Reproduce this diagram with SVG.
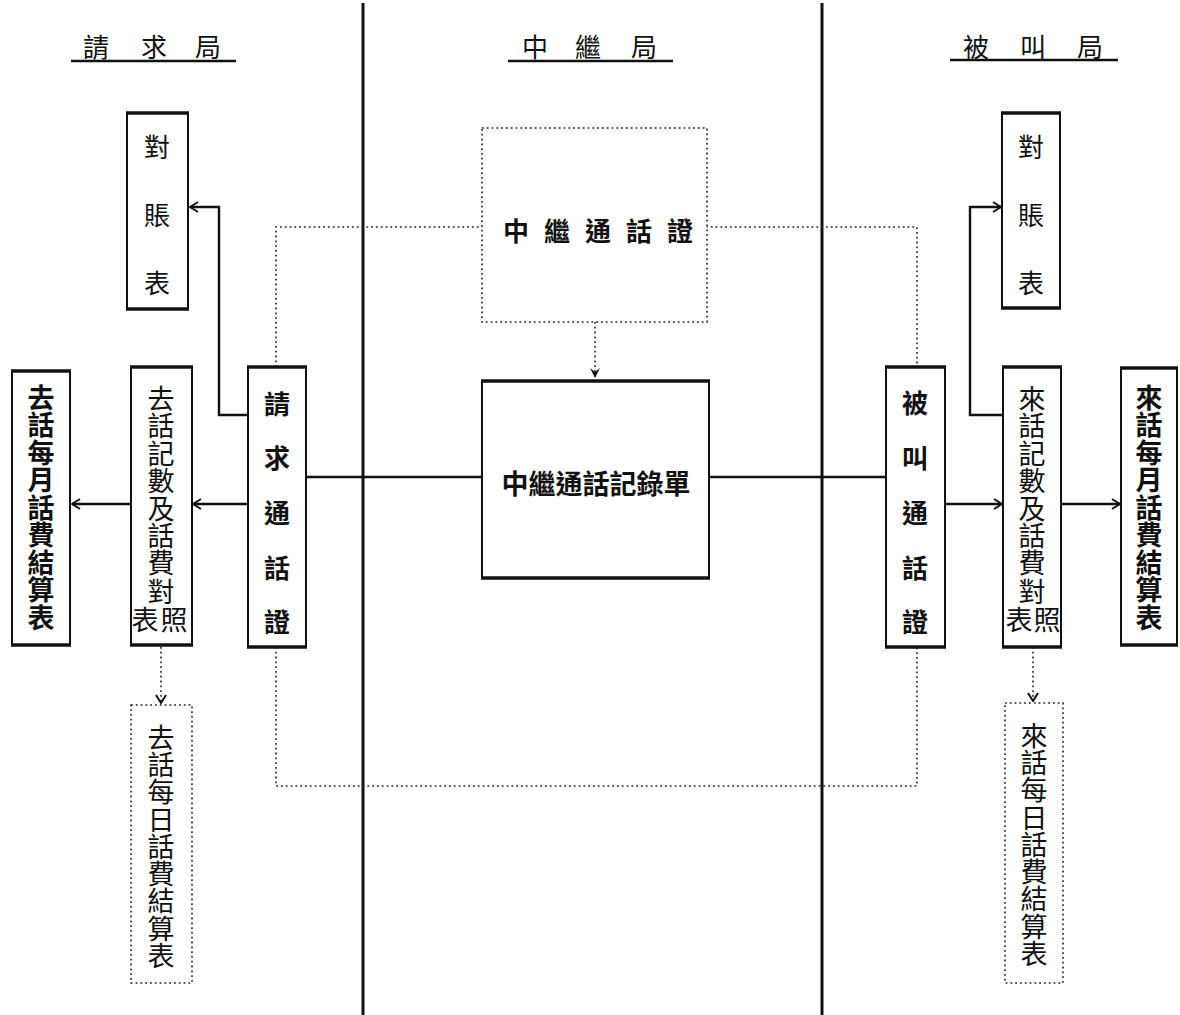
<svg xmlns="http://www.w3.org/2000/svg" width="1180" height="1015" viewBox="0 0 1180 1015">
<style>
.t{font-family:"Noto Sans CJK TC","Noto Sans CJK SC",sans-serif;fill:#111;text-anchor:middle;dominant-baseline:central}
.h{font-size:26px}
.v{font-size:27px}
.b{font-weight:700}
.box{fill:#fff;stroke:#111;stroke-width:2}
.bar{stroke:#111;stroke-width:3.5;fill:none}
.dbox{fill:#fff;stroke:#222;stroke-width:1.6;stroke-dasharray:1.8 3}
.ln{fill:none;stroke:#111;stroke-width:2.4}
.dl{fill:none;stroke:#222;stroke-width:1.6;stroke-dasharray:1.8 3}
.div{stroke:#111;stroke-width:3}
</style>
<defs>
<marker id="ah" viewBox="0 0 12 12" refX="11" refY="6" markerWidth="12" markerHeight="12" markerUnits="userSpaceOnUse" orient="auto">
<path d="M3 1 L11 6 L3 11" fill="none" stroke="#111" stroke-width="2"/>
</marker>
<marker id="af" viewBox="0 0 12 12" refX="11" refY="6" markerWidth="12" markerHeight="12" markerUnits="userSpaceOnUse" orient="auto">
<path d="M1 1 L11 6 L1 11 L5 6 Z" fill="#111"/>
</marker>
</defs>
<rect width="1180" height="1015" fill="#fff"/>

<g id="dividers">
<line class="div" x1="363" y1="3" x2="363" y2="1015"/>
<line class="div" x1="822" y1="3" x2="822" y2="1015"/>
</g>

<g id="headers">
<text class="t h" x="96 154 208" y="45">請求局</text>
<line x1="71" y1="61" x2="236" y2="61" stroke="#111" stroke-width="2.5"/>
<text class="t h" x="535 588 644" y="45">中繼局</text>
<line x1="508" y1="61" x2="673" y2="61" stroke="#111" stroke-width="2.5"/>
<text class="t h" x="976 1033 1090" y="45">被叫局</text>
<line x1="950" y1="60" x2="1118" y2="60" stroke="#111" stroke-width="2.5"/>
</g>

<g id="connectors">
<path class="dl" d="M276 367 V227 H482"/>
<path class="dl" d="M706 227 H917 V367"/>
<path class="dl" d="M276 647 V786 H917 V647"/>
<path class="dl" d="M595 322 V378" marker-end="url(#af)"/>
<path class="ln" d="M306 477 H482"/>
<path class="ln" d="M709 477 H886"/>
<path class="ln" d="M248 415 H219 V207 H190" marker-end="url(#ah)"/>
<path class="ln" d="M1003 415 H970 V207 H1001" marker-end="url(#ah)"/>
<path class="ln" d="M248 504 H193" marker-end="url(#ah)"/>
<path class="ln" d="M131 504 H72" marker-end="url(#ah)"/>
<path class="ln" d="M945 504 H1002" marker-end="url(#ah)"/>
<path class="ln" d="M1061 504 H1120" marker-end="url(#ah)"/>
<path class="dl" d="M161 647 V703" marker-end="url(#ah)"/>
<path class="dl" d="M1033 647 V701" marker-end="url(#ah)"/>
</g>

<g id="relay-cert">
<rect class="dbox" x="482" y="128" width="225" height="194"/>
<text class="t v b" x="516 557 598 639 680" y="229" style="font-size:26px">中繼通話證</text>
</g>

<g id="relay-record">
<rect class="box" x="482" y="381" width="227" height="197"/>
<line class="bar" x1="481" y1="381" x2="710" y2="381"/>
<line class="bar" x1="481" y1="578" x2="710" y2="578"/>
<text class="t v b" x="596" y="482">中繼通話記錄單</text>
</g>

<g id="req-ledger">
<rect class="box" x="127" y="113" width="61" height="196"/>
<line class="bar" x1="126" y1="113" x2="189" y2="113"/>
<line class="bar" x1="126" y1="309" x2="189" y2="309"/>
<text class="t v" x="157 157 157" y="145 213 281" style="font-size:26px">對賬表</text>
</g>

<g id="req-cert">
<rect class="box" x="248" y="367" width="58" height="280"/>
<line class="bar" x1="247" y1="367" x2="307" y2="367"/>
<line class="bar" x1="247" y1="647" x2="307" y2="647"/>
<text class="t v b" x="277 277 277 277 277" y="402 456 511 566 620" style="font-size:26px">請求通話證</text>
</g>

<g id="req-count">
<rect class="box" x="131" y="367" width="61" height="278"/>
<line class="bar" x1="130" y1="367" x2="193" y2="367"/>
<line class="bar" x1="130" y1="645" x2="193" y2="645"/>
<text class="t v" x="161 161 161 161 161 161 161 161 145 174" y="397 424 452 479 507 534 561 590 618 618">去話記數及話費對表照</text>
</g>

<g id="req-monthly">
<rect class="box" x="12" y="371" width="58" height="274"/>
<line class="bar" x1="11" y1="371" x2="71" y2="371"/>
<line class="bar" x1="11" y1="645" x2="71" y2="645"/>
<text class="t v b" x="41 41 41 41 41 41 41 41 41" y="396 423 451 478 506 533 561 588 616">去話每月話費結算表</text>
</g>

<g id="req-daily">
<rect class="dbox" x="131" y="705" width="61" height="278"/>
<text class="t v" x="161 161 161 161 161 161 161 161 161" y="736 763 790 818 845 872 899 927 954">去話每日話費結算表</text>
</g>

<g id="called-cert">
<rect class="box" x="886" y="367" width="59" height="280"/>
<line class="bar" x1="885" y1="367" x2="946" y2="367"/>
<line class="bar" x1="885" y1="647" x2="946" y2="647"/>
<text class="t v b" x="915 915 915 915 915" y="401 456 511 566 620" style="font-size:26px">被叫通話證</text>
</g>

<g id="called-ledger">
<rect class="box" x="1002" y="113" width="58" height="195"/>
<line class="bar" x1="1001" y1="113" x2="1061" y2="113"/>
<line class="bar" x1="1001" y1="308" x2="1061" y2="308"/>
<text class="t v" x="1031 1031 1031" y="145 213 281" style="font-size:26px">對賬表</text>
</g>

<g id="called-count">
<rect class="box" x="1003" y="367" width="58" height="280"/>
<line class="bar" x1="1002" y1="367" x2="1062" y2="367"/>
<line class="bar" x1="1002" y1="647" x2="1062" y2="647"/>
<text class="t v" x="1032 1032 1032 1032 1032 1032 1032 1032 1019 1047" y="397 424 452 479 507 534 561 590 618 618">來話記數及話費對表照</text>
</g>

<g id="called-monthly">
<rect class="box" x="1121" y="368" width="56" height="277"/>
<line class="bar" x1="1120" y1="368" x2="1178" y2="368"/>
<line class="bar" x1="1120" y1="645" x2="1178" y2="645"/>
<text class="t v b" x="1149 1149 1149 1149 1149 1149 1149 1149 1149" y="396 423 451 478 506 533 561 588 616">來話每月話費結算表</text>
</g>

<g id="called-daily">
<rect class="dbox" x="1005" y="703" width="58" height="280"/>
<text class="t v" x="1034 1034 1034 1034 1034 1034 1034 1034 1034" y="734 761 788 816 843 870 897 925 952">來話每日話費結算表</text>
</g>
</svg>
